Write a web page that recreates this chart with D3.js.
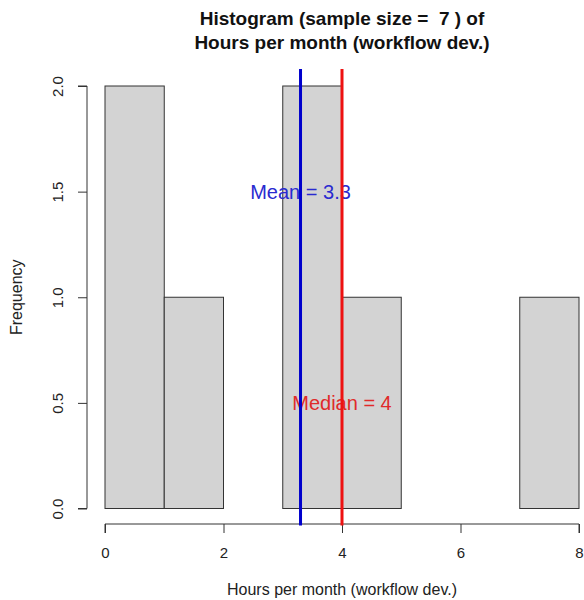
<!DOCTYPE html>
<html><head><meta charset="utf-8">
<script src="https://cdn.jsdelivr.net/npm/d3@7"></script>
<style>body{margin:0;background:#fff}svg{display:block}text{font-family:"Liberation Sans",Arial,sans-serif;white-space:pre}</style>
</head><body><svg id="c" width="584" height="600"></svg>
<script>
const binEdges = [0,1,2,3,4,5,6,7,8];
const counts = [2,1,0,2,1,0,0,1];
const xTicks = [0,2,4,6,8];
const yTicks = [0.0,0.5,1.0,1.5,2.0];
const meanVal = 3.3, medianVal = 4;
const titleLines = ["Histogram (sample size =  7 ) of","Hours per month (workflow dev.)"];
const xTitle = "Hours per month (workflow dev.)";
const yTitle = "Frequency";

const svg = d3.select("#c");
const x = d3.scaleLinear().domain([0,8]).range([105,579]);
const y = d3.scaleLinear().domain([0,2]).range([508.5,86]);
const yTop = y(2.08), yBot = y(-0.08);
const tk = 9;

const bins = counts.map((c,i)=>({x0:binEdges[i],x1:binEdges[i+1],c}));
svg.append("g").selectAll("rect").data(bins).join("rect")
  .attr("x",d=>x(d.x0)).attr("width",d=>x(d.x1)-x(d.x0))
  .attr("y",d=>y(d.c)).attr("height",d=>y(0)-y(d.c))
  .attr("fill","#d3d3d3").attr("stroke","#333").attr("stroke-width",1);

// x axis
const xa = svg.append("g").attr("transform",`translate(0,524)`)
  .call(d3.axisBottom(x).tickValues(xTicks).tickSize(tk).tickFormat(d3.format("d")));
xa.select(".domain").attr("stroke","#333").attr("d",`M${x(0)},${tk}V0H${x(8)}V${tk}`);
xa.selectAll(".tick line").attr("stroke","#333");
xa.selectAll("text").attr("font-size",15).attr("fill","#222").attr("y",28.5).attr("dy","0.35em");

// y axis
const ya = svg.append("g").attr("transform",`translate(87,0)`)
  .call(d3.axisLeft(y).tickValues(yTicks).tickSize(tk).tickFormat(d3.format(".1f")));
ya.select(".domain").attr("stroke","#333").attr("d",`M-${tk},${y(0)}H0V${y(2)}H-${tk}`);
ya.selectAll(".tick line").attr("stroke","#333");
ya.selectAll(".tick").each(function(d){
  d3.select(this).select("text").attr("font-size",15).attr("fill","#222")
   .attr("x",null).attr("dy","0.35em").attr("y",0)
   .attr("text-anchor","middle")
   .attr("transform",`translate(-29,0) rotate(-90)`);
});

// labels
svg.append("text").attr("x",x(meanVal)).attr("y",y(1.5)).attr("dy","0.35em")
  .attr("text-anchor","middle").attr("font-size",20).attr("fill","#2a2ad0").text("Mean = " + meanVal);
svg.append("text").attr("x",x(medianVal)).attr("y",y(0.5)).attr("dy","0.35em")
  .attr("text-anchor","middle").attr("font-size",20).attr("fill","#e02a2a").text("Median = " + medianVal);

// lines
svg.append("line").attr("x1",x(meanVal)).attr("x2",x(meanVal)).attr("y1",yTop).attr("y2",yBot)
  .attr("stroke","#0000cc").attr("stroke-width",3);
svg.append("line").attr("x1",x(medianVal)).attr("x2",x(medianVal)).attr("y1",yTop).attr("y2",yBot)
  .attr("stroke","#ee1111").attr("stroke-width",3);

// titles
svg.selectAll(".ttl").data(titleLines).join("text").attr("class","ttl")
  .attr("x",(x(0)+x(8))/2).attr("y",(d,i)=>25+i*24).attr("text-anchor","middle")
  .attr("font-size",19).attr("font-weight","bold").attr("fill","#111").text(d=>d);
svg.append("text").attr("x",(x(0)+x(8))/2).attr("y",595).attr("text-anchor","middle")
  .attr("font-size",16).attr("fill","#222").text(xTitle);
svg.append("text").attr("transform",`translate(22,${y(1)}) rotate(-90)`).attr("text-anchor","middle")
  .attr("font-size",16).attr("fill","#222").text(yTitle);
</script></body></html>
